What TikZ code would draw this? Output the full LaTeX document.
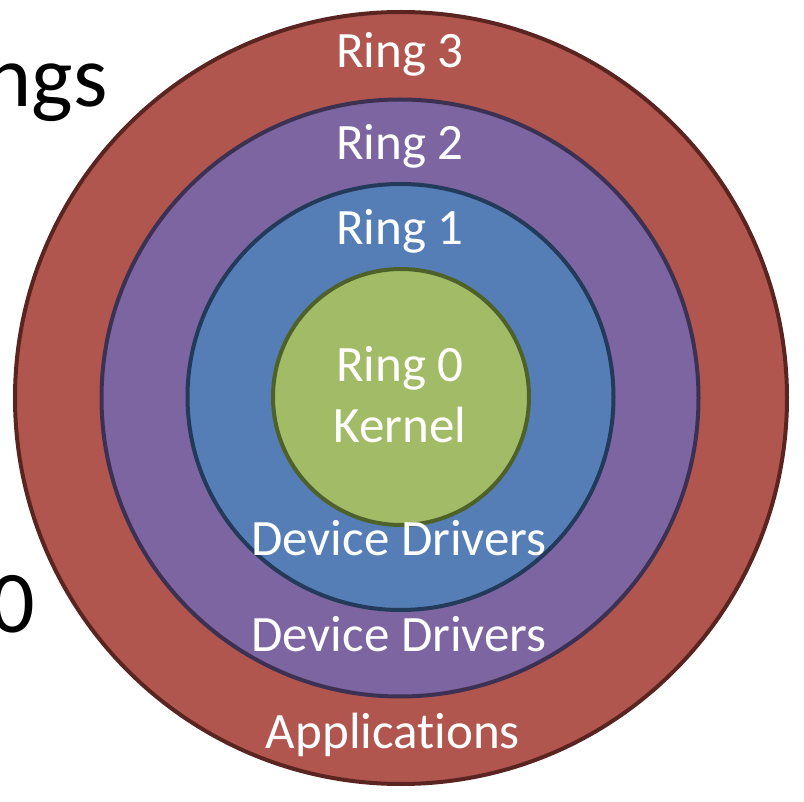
\documentclass[tikz,border=0pt]{standalone}
\usepackage{fontspec}
\setmainfont[Ligatures=NoCommon]{Carlito}
\definecolor{rfill}{HTML}{B1564F}
\definecolor{rline}{HTML}{5A2521}
\definecolor{pfill}{HTML}{7C65A0}
\definecolor{pline}{HTML}{3C3152}
\definecolor{bfill}{HTML}{557EB7}
\definecolor{bline}{HTML}{233A5A}
\definecolor{gfill}{HTML}{A1BB66}
\definecolor{gline}{HTML}{4E6129}
\begin{document}
\begin{tikzpicture}[x=1pt,y=-1pt,
  ring/.style={circle,line width=4pt,inner sep=0pt},
  lbl/.style={text=white,font=\fontsize{51}{60}\selectfont,anchor=base,inner sep=0pt},
  big/.style={text=black,font=\fontsize{88}{100}\selectfont,anchor=base east,inner sep=0pt}]
\useasboundingbox (0,0) rectangle (804,802);
\clip (0,0) rectangle (804,802);
\node[ring,draw=rline,fill=rfill,minimum size=772pt] (r3) at (401,398) {};
\node[ring,draw=pline,fill=pfill,minimum size=597pt] (r2) at (400,398) {};
\node[ring,draw=bline,fill=bfill,minimum size=426pt] (r1) at (400.5,397) {};
\node[ring,draw=gline,fill=gfill,minimum size=256pt] (r0) at (401,397) {};
\node[lbl] (t3) at (400,68) {Ring 3};
\node[lbl] (t2) at (400,160) {Ring 2};
\node[lbl] (t1) at (400,245) {Ring 1};
\node[lbl] (t0) at (400,382) {Ring 0};
\node[lbl] (tk) at (400,443) {Kernel};
\node[lbl] (d1) at (399,555) {Device Drivers};
\node[lbl] (d2) at (399,651) {Device Drivers};
\node[lbl] (ap) at (393,748) {Applications};
\node[big] (ngs) at (108,107) {ngs};
\node[big] (zero) at (35,632) {0};
\end{tikzpicture}
\end{document}
